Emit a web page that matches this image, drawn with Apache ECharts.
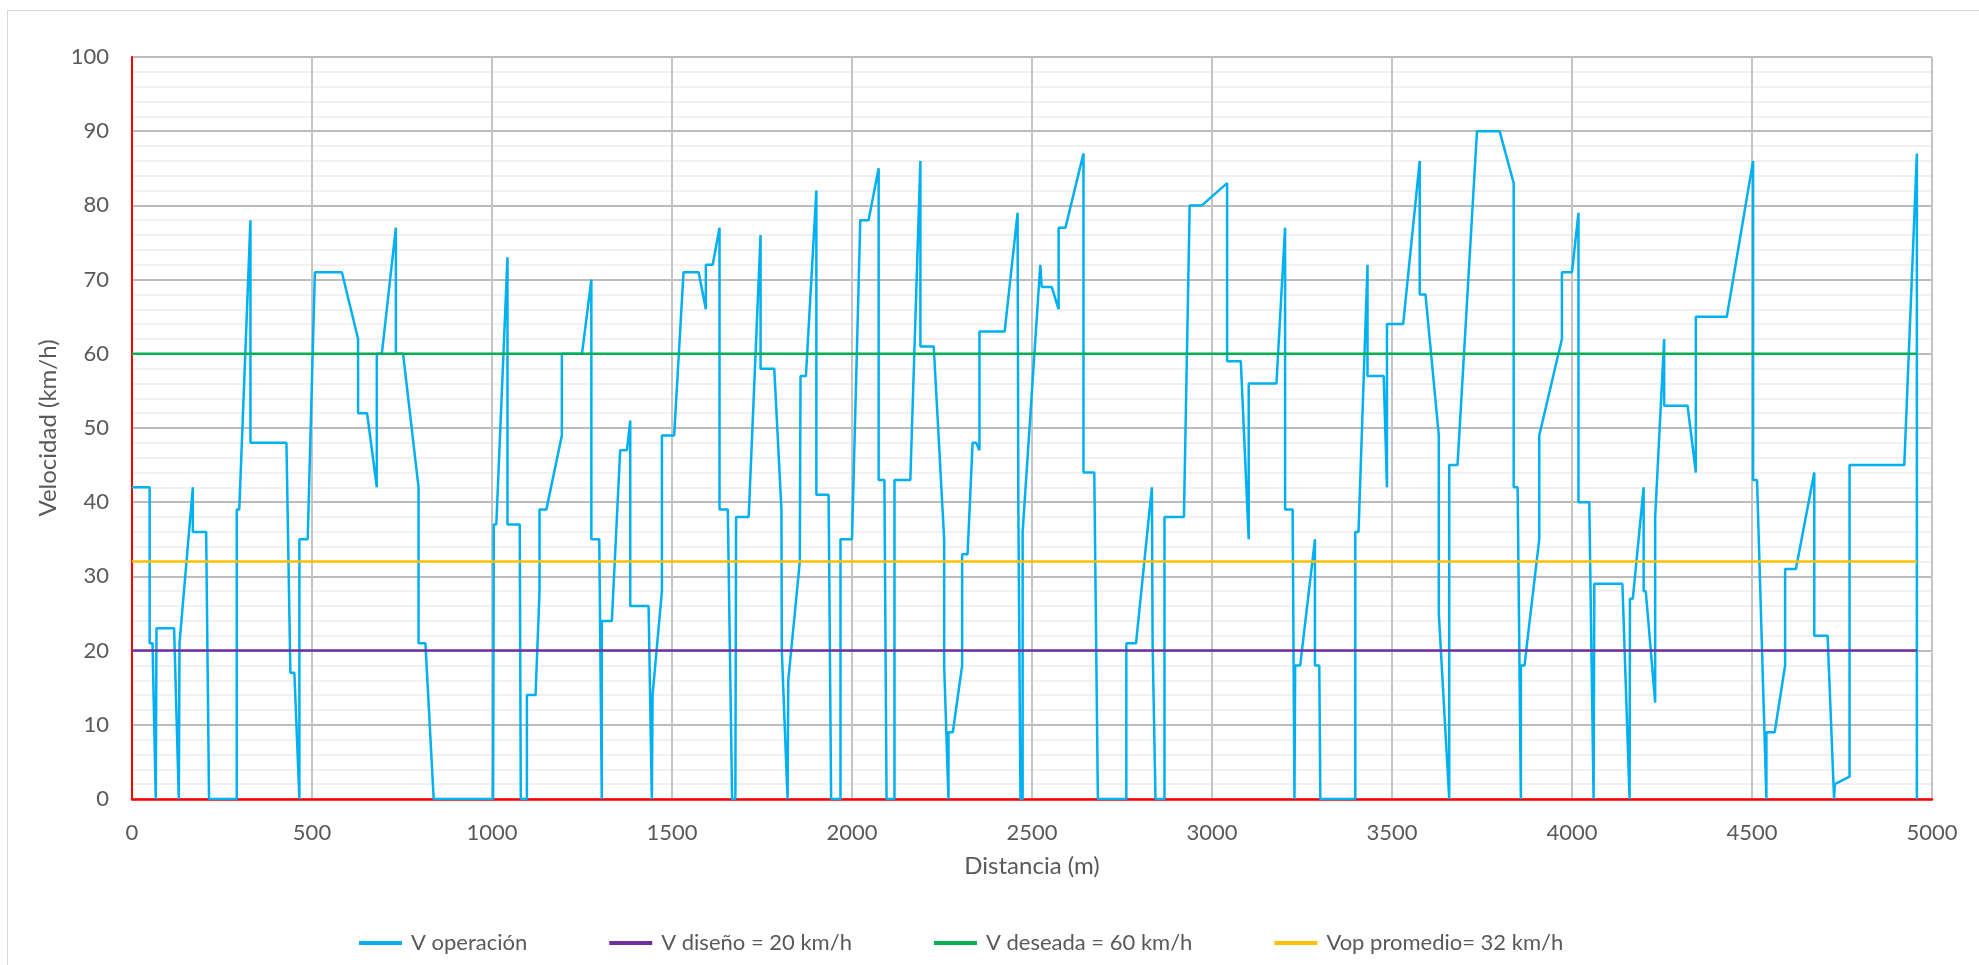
<!DOCTYPE html>
<html>
<head>
<meta charset="utf-8">
<script src="https://cdn.jsdelivr.net/npm/echarts@6/dist/echarts.min.js"></script>
<style>
  html, body { margin: 0; padding: 0; background: #ffffff; }
  #frame { position: absolute; left: 7px; top: 10px; width: 1990px; height: 980px; border: 1px solid #d9d9d9; box-sizing: border-box; }
  #chart { position: absolute; left: 0; top: 0; width: 1979px; height: 965px; }
</style>
</head>
<body>
<div id="frame"></div>
<div id="chart"></div>
<script>
// Perfil de velocidades de operación a lo largo del tramo
const distancia = [
  0, 49, 49, 57, 66, 68, 117, 130, 132, 169, 169, 206, 214, 291, 291, 298, 329, 329, 429, 440, 451, 465, 465, 488, 508, 583, 628, 628,
  653, 680, 680, 694, 733, 733, 753, 796, 796, 815, 838, 1003, 1005, 1012, 1043, 1043, 1077, 1080, 1097, 1097, 1121, 1132, 1132, 1151, 1194, 1194, 1250, 1276,
  1276, 1298, 1305, 1305, 1333, 1356, 1375, 1384, 1384, 1435, 1444, 1446, 1472, 1472, 1506, 1532, 1574, 1594, 1594, 1613, 1632, 1632, 1655, 1667, 1676, 1678, 1713, 1746, 1746, 1784, 1804, 1805, 1821, 1823, 1827, 1855, 1857, 1872, 1901, 1901,
  1935, 1942, 1968, 1968, 2000, 2023, 2046, 2074, 2074, 2090, 2096, 2118, 2118, 2162, 2190, 2190, 2227, 2256, 2256, 2268, 2268, 2280, 2306, 2306, 2321, 2335, 2345, 2354, 2354, 2424, 2460, 2462, 2468, 2474, 2474, 2523, 2527,
  2555, 2574, 2574, 2593, 2643, 2643, 2673, 2683, 2762, 2762, 2789, 2833, 2835, 2843, 2868, 2868, 2922, 2938, 2972, 3042, 3042, 3080, 3102, 3102, 3179,
  3203, 3203, 3224, 3229, 3231, 3245, 3286, 3286, 3298, 3301, 3398, 3398, 3407, 3432, 3432, 3477, 3486, 3486, 3531, 3577, 3577, 3593, 3630, 3630, 3659, 3659, 3682, 3736, 3799,
  3838, 3838, 3849, 3858, 3858, 3868, 3909, 3909, 3914, 3972, 3972, 4000, 4018, 4018, 4048, 4060, 4062, 4140, 4160, 4161, 4169, 4199, 4199, 4205, 4231, 4231, 4235, 4256, 4256, 4321, 4344, 4344, 4430,
  4503, 4503, 4514, 4540, 4540, 4563, 4592, 4592, 4622, 4673, 4673, 4710, 4728, 4730, 4771, 4771, 4923, 4958, 4958
];
const vOperacion = [
  42, 42, 21, 21, 0, 23, 23, 0, 21, 42, 36, 36, 0, 0, 39, 39, 78, 48, 48, 17, 17, 0, 35, 35, 71, 71, 62, 52,
  52, 42, 60, 60, 77, 60, 60, 42, 21, 21, 0, 0, 37, 37, 73, 37, 37, 0, 0, 14, 14, 28, 39, 39, 49, 60, 60, 70,
  35, 35, 0, 24, 24, 47, 47, 51, 26, 26, 0, 14, 28, 49, 49, 71, 71, 66, 72, 72, 77, 39, 39, 0, 0, 38, 38, 76, 58, 58, 39, 20, 0, 16, 16, 32, 57, 57, 82, 41,
  41, 0, 0, 35, 35, 78, 78, 85, 43, 43, 0, 0, 43, 43, 86, 61, 61, 35, 18, 0, 9, 9, 18, 33, 33, 48, 48, 47, 63, 63, 79, 40, 0, 0, 36, 72, 69,
  69, 66, 77, 77, 87, 44, 44, 0, 0, 21, 21, 42, 21, 0, 0, 38, 38, 80, 80, 83, 59, 59, 35, 56, 56,
  77, 39, 39, 0, 18, 18, 35, 18, 18, 0, 0, 36, 36, 72, 57, 57, 42, 64, 64, 86, 68, 68, 49, 25, 0, 45, 45, 90, 90,
  83, 42, 42, 0, 18, 18, 35, 49, 49, 62, 71, 71, 79, 40, 40, 0, 29, 29, 0, 27, 27, 42, 28, 28, 13, 38, 38, 62, 53, 53, 44, 65, 65,
  86, 43, 43, 0, 9, 9, 18, 31, 31, 44, 22, 22, 0, 2, 3, 45, 45, 87, 0
];

// Velocidades de referencia (constantes en todo el tramo)
const tramo = [0, 4958];
const vDiseno = 20;
const vDeseada = 60;
const vPromedio = 32;

const nombres = ['V operación', 'V diseño = 20 km/h', 'V deseada = 60 km/h', 'Vop promedio= 32 km/h'];
const colores = ['#00b0f0', '#7030a0', '#00b050', '#ffc000'];

const FONT = 'Lato, "Open Sans", sans-serif';
const TXT = '#595959';

const perfil = distancia.map((d, i) => [d, vOperacion[i]]);
const constante = v => tramo.map(d => [d, v]);

function linea(name, data, color) {
  return {
    name, type: 'line', data, showSymbol: false, symbol: 'none',
    lineStyle: { color, width: 2.5 }, itemStyle: { color },
    animation: false
  };
}

const chart = echarts.init(document.getElementById('chart'), null, { renderer: 'canvas' });
chart.setOption({
  backgroundColor: 'transparent',
  animation: false,
  grid: { left: 132, right: 47, top: 57, bottom: 166, containLabel: false },
  legend: {
    left: 354, top: 927,
    itemWidth: 43, itemHeight: 4, itemGap: 82,
    icon: 'rect',
    textStyle: { fontFamily: FONT, fontSize: 22, color: TXT, padding: [0, 0, 0, 4] },
    data: nombres
  },
  xAxis: {
    type: 'value', min: 0, max: 5000, interval: 500,
    name: 'Distancia (m)', nameLocation: 'middle', nameGap: 55,
    nameTextStyle: { fontFamily: FONT, fontSize: 24, color: TXT },
    axisLine: { show: true, onZero: false, lineStyle: { color: '#ff0000', width: 2.5 } },
    axisTick: { show: false },
    axisLabel: { fontFamily: FONT, fontSize: 22, color: TXT, margin: 23, formatter: v => String(v) },
    splitLine: { show: true, lineStyle: { color: '#c4c4c4', width: 2 } }
  },
  yAxis: {
    type: 'value', min: 0, max: 100, interval: 10,
    name: 'Velocidad (km/h)', nameLocation: 'middle', nameGap: 72,
    nameTextStyle: { fontFamily: FONT, fontSize: 24, color: TXT },
    axisLine: { show: true, lineStyle: { color: '#ff0000', width: 2 } },
    axisTick: { show: false },
    axisLabel: { fontFamily: FONT, fontSize: 22, color: TXT, margin: 23 },
    splitLine: { show: true, lineStyle: { color: '#a6a6a6', width: 1.5 } },
    minorTick: { show: false, splitNumber: 5 },
    minorSplitLine: { show: true, lineStyle: { color: '#ededed', width: 1.5 } }
  },
  series: [
    linea(nombres[0], perfil, colores[0]),
    linea(nombres[1], constante(vDiseno), colores[1]),
    linea(nombres[2], constante(vDeseada), colores[2]),
    linea(nombres[3], constante(vPromedio), colores[3])
  ]
});
</script>
</body>
</html>
